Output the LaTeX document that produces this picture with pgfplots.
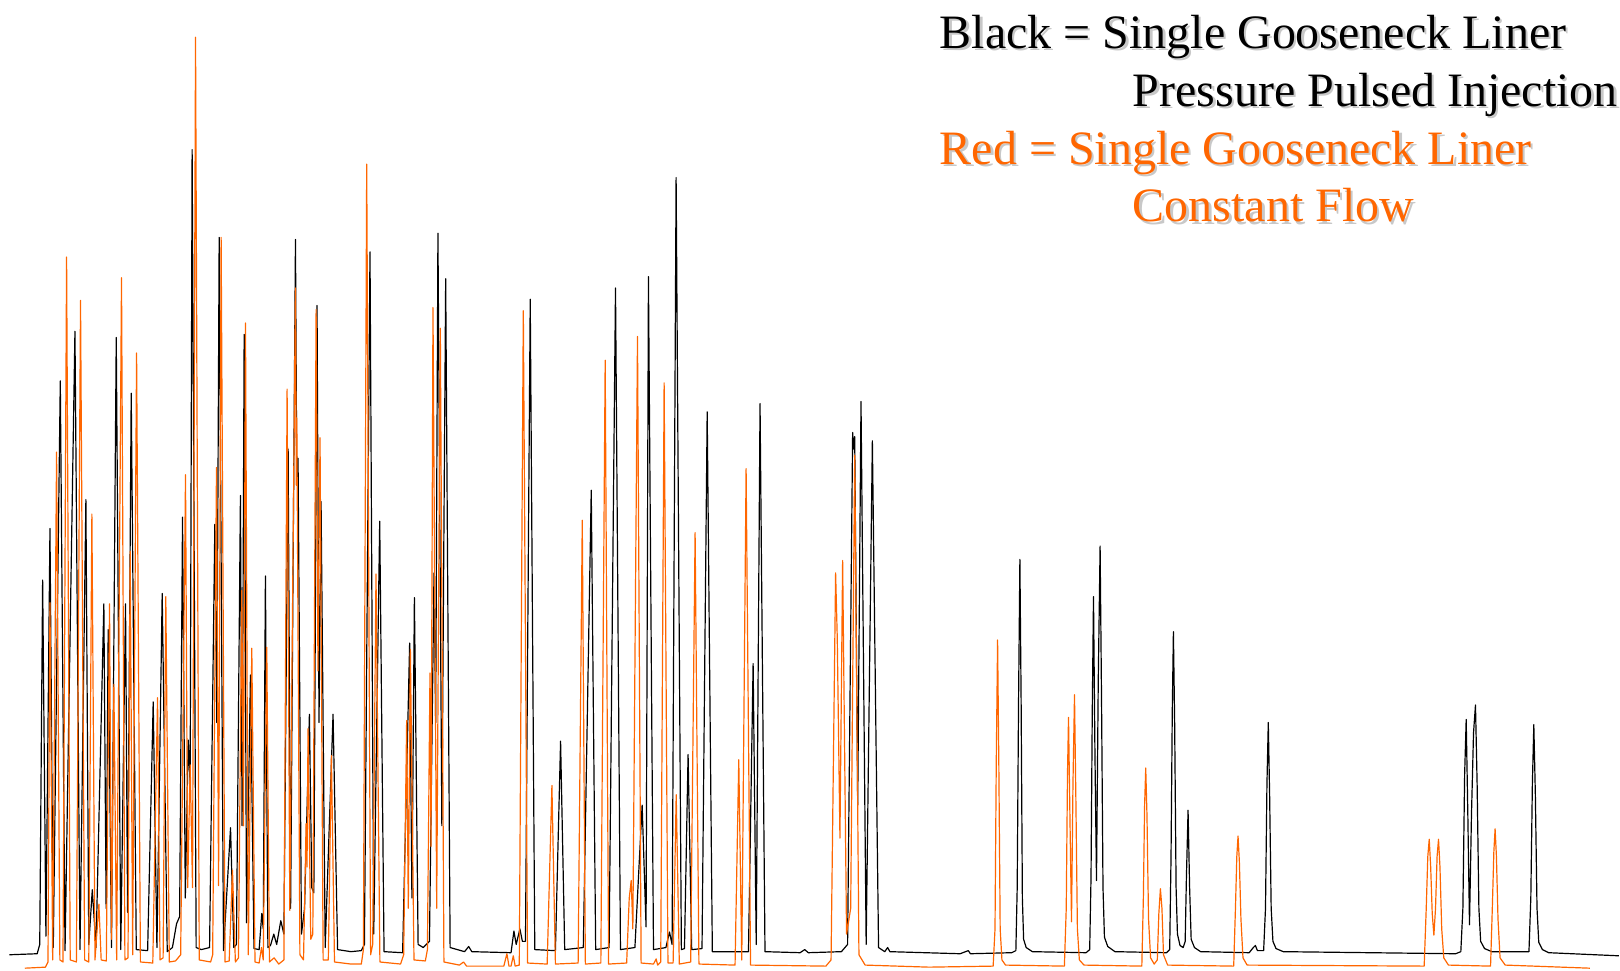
\documentclass[border=0pt]{standalone}
\usepackage{pgfplots}
\pgfplotsset{compat=1.18}
\usepackage{fontspec}
\setmainfont{Liberation Serif}
\definecolor{orng}{RGB}{255,102,0}
\definecolor{shad}{RGB}{200,200,200}
\begin{document}
\begin{tikzpicture}
\begin{axis}[width=810bp, height=485.5bp, scale only axis,
  xmin=0, xmax=1568, ymin=0, ymax=940, y dir=reverse,
  hide axis, clip=false]
\path (axis cs:0,0) rectangle (axis cs:1568,940);
% Black trace: Pressure Pulsed Injection
\addplot[black, line width=0.6pt, line join=round, mark=none] coordinates {
(9,925) (36,924) (38.5,915) (41.3,562) (44.5,907) (48.4,512) (51.6,918) (58.4,369) (63,921)
(72.6,321) (77.5,920) (83.2,484) (86,915) (89.4,862) (93,918) (100.6,585) (102.8,880) (104.8,610)
(108,918) (112.6,327) (117,920) (121.6,585) (123.6,884) (127.1,381) (132,920) (143,921)
(148.4,680) (152,918) (157.1,575) (162,922) (167,918) (171,895) (174,888) (176.8,501) (179.5,870)
(182.3,717) (184.2,760) (186.1,145) (190,918) (195,920) (203,918) (208.1,508) (210,700) (212.3,230)
(216.5,921) (223.3,802) (226.5,918) (229,915) (232.9,480) (234.5,800) (236.5,324) (238.8,894)
(242.6,654) (246,919) (251,920) (253.6,885) (255,900) (257.1,558) (259.5,918) (262,916) (265.2,905)
(268,915) (272,892) (275,905) (279.1,435) (281.5,880) (286.2,232) (287.5,470) (288.7,444) (292,905)
(295,880) (297.5,780) (299.7,692) (302,860) (304,865) (307.1,296) (309,700) (311,486) (315,918)
(322.6,692) (327,920) (340,922) (350,921) (353,915) (358.4,244) (362,905) (367.8,505) (372,922)
(390,923) (396.8,623) (399,870) (401.4,579) (405,915) (410,918) (416,912) (420.4,555) (422,700)
(424.2,226) (428,800) (431.7,270) (436,918) (450,922) (454,917) (457,922) (495,923) (497.8,902)
(500,915) (503.6,900) (506,912) (509,912) (513.6,290) (518,920) (538,921) (543,718) (547,920)
(565,918) (572.7,475) (577,920) (590,918) (596.2,279) (601,920) (615,918) (622,780) (625.8,898)
(628.1,268) (633,920) (645,918) (648.5,903) (651,915) (654.9,172) (660,920) (663,919) (666.5,731)
(670,920) (680,919) (685,399) (690,922) (725,922) (729.5,643) (732.5,915) (736.2,391) (741,922)
(775,923) (779.5,920) (783,923) (815,922) (821,915) (825.9,419) (826.9,435) (827.9,423) (830.8,780)
(834,389) (839,915) (845,427) (851,918) (857,922) (859.8,918) (862,922) (930,924) (937.9,921)
(940,924) (980,923) (984,921) (985.3,860) (986.6,680) (987.9,542) (989.1,680) (990.3,870) (991.5,910)
(994,918) (1000,922) (1052,923) (1055.5,920) (1056.8,850) (1058,690) (1059.2,578) (1060.6,730)
(1062.1,853) (1063.8,660) (1065.6,529) (1067,680) (1068.4,860) (1069.8,908) (1073,917) (1080,922)
(1130,923) (1133,920) (1134.3,830) (1135.5,690) (1136.6,612) (1137.8,700) (1139.2,860) (1140.5,905)
(1143,916) (1146,918) (1148,912) (1149.2,850) (1150.8,785) (1152.3,860) (1153.8,910) (1157,918)
(1163,922) (1210,923) (1214,918) (1216,916) (1218,921) (1224,921) (1225.8,880) (1227.2,760)
(1228.5,700) (1229.8,770) (1231.3,880) (1233,912) (1236,919) (1243,922) (1410,924) (1415,922)
(1417,880) (1418.7,750) (1420.2,697) (1421.8,790) (1423.4,896) (1425.3,790) (1427.3,710) (1429.2,683)
(1430.8,760) (1432.5,880) (1434.2,912) (1438,919) (1445,922) (1481,922) (1482.8,870) (1484.3,760)
(1485.7,702) (1487.2,770) (1488.8,880) (1490.5,913) (1494,920) (1500,923) (1568,926)
};
% Orange trace: Constant Flow
\addplot[orng, line width=0.6pt, line join=round, mark=none] coordinates {
(24,938) (44,937) (46.5,932) (48.4,584) (51,930) (54.8,438) (58,930) (61,932) (64.5,249) (68,930)
(74,932) (78,291) (82,930) (86,932) (89,498) (92,930) (95.8,876) (98,930) (103,931) (106.1,585)
(108,910) (110.3,663) (113,930) (117.7,269) (121,930) (124,928) (126.1,534) (128.5,925) (132.3,342)
(136,932) (148,933) (152.6,676) (155,930) (158,928) (160.6,578) (164,932) (170,931) (175,925)
(179.7,460) (181.8,860) (184.2,741) (186.5,860) (189.4,36) (193,930) (204,932) (206,925) (209.7,453)
(211.7,858) (214.2,230) (218,932) (222,931) (225.2,843) (228,932) (231,928) (234.2,572) (235.8,800)
(237.8,313) (240.5,925) (243.9,628) (247,932) (251,933) (253.3,918) (255,930) (258.4,627) (261,932)
(265.5,928) (270,934) (275,930) (278.1,377) (280.7,882) (286.2,279) (287,470) (287.5,405) (290.5,925)
(294,930) (296.5,798) (297.4,840) (298.4,706) (301,910) (303,905) (306.2,300) (308,650) (310,424)
(313,930) (318,930) (321,732) (324,932) (340,934) (350,934) (352,920) (355.2,159) (359,925) (361,915)
(364.2,556) (368,932) (388,934) (391,925) (393.9,698) (395.5,880) (397.5,629) (401,930) (412,931)
(414,920) (416.5,652) (417.5,820) (419.4,298) (423,880) (426.5,318) (430,932) (445,935) (449,932)
(452,936) (488,936) (491,924) (493,936) (495,936) (497.2,926) (499,936) (503,935) (506.9,301)
(511,933) (530,934) (534.6,761) (538,934) (560,933) (564,504) (567,934) (582,933) (586.2,349)
(589.5,934) (607,933) (609.5,870) (611.4,853) (613,900) (617.5,326) (621,933) (633,934) (635.6,929)
(637,935) (640,932) (643.3,371) (647,933) (652,933) (655,770) (658,934) (669,932) (673.3,516)
(677,934) (712,935) (715.6,736) (718.5,930) (722.7,454) (727,935) (800,936) (805,930) (809.4,555)
(811,618) (813.6,812) (816.2,543) (820,905) (824,880) (827.9,441) (832,925) (838,935) (900,937)
(962,936) (963.8,900) (965,740) (966.3,620) (967.5,740) (968.8,900) (970.5,930) (974,935) (1031,936)
(1032.8,880) (1034,750) (1035,695) (1036.5,800) (1037.9,893) (1039.3,760) (1040.8,673) (1042.2,780)
(1043.6,900) (1045.5,930) (1050,935) (1106,936) (1107.5,870) (1108.7,780) (1109.8,744) (1111,790)
(1112.5,890) (1114.5,928) (1118,934) (1121,930) (1122.5,885) (1124,861) (1125.5,880) (1127,925)
(1131,935) (1195,936) (1196.7,880) (1198,830) (1199.2,810) (1200.5,835) (1202,890) (1204,928)
(1208,935) (1379.5,936) (1381.5,880) (1383,830) (1384.4,813) (1385.8,840) (1387.3,885) (1388.9,906)
(1390.5,880) (1392,830) (1393.4,813) (1394.8,840) (1396.5,900) (1398.5,928) (1403,935) (1443.8,936)
(1445.5,880) (1447,825) (1448.2,803) (1449.5,830) (1451,890) (1453,928) (1458,935) (1540,938)
};
\begin{scope}[every node/.style={anchor=base west, inner sep=0pt, font=\fontsize{24bp}{29bp}\selectfont}]
\begin{scope}[shift={(1.1bp,-1.1bp)}]
\node[text=shad] at (axis cs:910,47) {Black = Single Gooseneck Liner};
\node[text=shad] at (axis cs:1097,103) {Pressure Pulsed Injection};
\node[text=shad] at (axis cs:910,159) {Red = Single Gooseneck Liner};
\node[text=shad] at (axis cs:1097,215) {Constant Flow};
\end{scope}
\node[text=black] at (axis cs:910,47) {Black = Single Gooseneck Liner};
\node[text=black] at (axis cs:1097,103) {Pressure Pulsed Injection};
\node[text=orng] at (axis cs:910,159) {Red = Single Gooseneck Liner};
\node[text=orng] at (axis cs:1097,215) {Constant Flow};
\end{scope}
\end{axis}
\end{tikzpicture}
\end{document}
